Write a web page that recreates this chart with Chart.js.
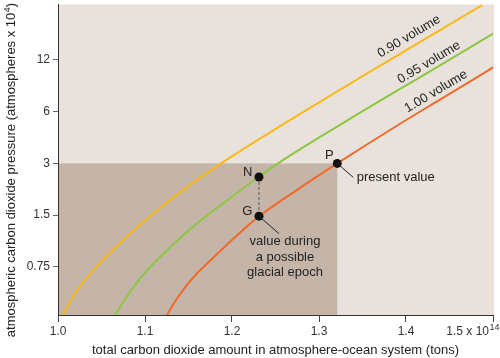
<!DOCTYPE html>
<html><head><meta charset="utf-8">
<script src="https://cdn.jsdelivr.net/npm/chart.js@4/dist/chart.umd.min.js"></script>
<style>html,body{margin:0;padding:0;background:#fff}</style>
</head><body>
<canvas id="c" width="500" height="358"></canvas>
<script>
// ---- data ----
const xTickValues = [1.0, 1.1, 1.2, 1.3, 1.4, 1.5];
const xTickLabels = ['1.0', '1.1', '1.2', '1.3', '1.4', '1.5 x 10'];
const xTickExponent = '14';
const yTickValues = [0.75, 1.5, 3, 6, 12];
const yTickLabels = ['0.75', '1.5', '3', '6', '12'];
const seriesNames = ['0.90 volume', '0.95 volume', '1.00 volume'];

const vol090X = [1.0057, 1.0192, 1.0445, 1.0747, 1.1057, 1.1448, 1.1874, 1.2609, 1.3433, 1.4391, 1.4877];
const vol090Y = [0.394, 0.5235, 0.753, 1.073, 1.479, 2.117, 3.0, 5.14, 9.20, 17.90, 25.0];
const vol095X = [1.0659, 1.0793, 1.0957, 1.1057, 1.1341, 1.1632, 1.2015, 1.2305, 1.2529, 1.3318, 1.4391, 1.5011];
const vol095Y = [0.394, 0.506, 0.653, 0.747, 1.032, 1.389, 1.946, 2.50, 3.0, 5.30, 11.16, 17.19];
const vol100X = [1.1253, 1.1345, 1.1456, 1.1586, 1.1724, 1.2015, 1.2314, 1.2782, 1.3210, 1.3951, 1.4391, 1.5011];
const vol100Y = [0.394, 0.471, 0.566, 0.677, 0.793, 1.095, 1.48, 2.162, 3.0, 5.17, 7.05, 10.92];

const markerNames = ['N', 'G', 'P'];
const markerX = [1.231, 1.231, 1.321];
const markerY = [2.50, 1.48, 3.0];

const xTitle = 'total carbon dioxide amount in atmosphere-ocean system (tons)';
const yTitleMain = 'atmospheric carbon dioxide pressure (atmospheres x 10';
const yTitleExp = '4';
const yTitleEnd = ')';
const presentLabel = 'present value';
const glacialLabel = ['value during', 'a possible', 'glacial epoch'];

// ---- styles ----
const FONT = '"Liberation Sans", Arial, Helvetica, sans-serif';
const TXT = '#222';
const colors = ['#fbb919', '#8dc641', '#f26a2a'];
const bgLight = '#e9e2dc';
const bgDark = '#c5b5a8';

const zip = (xs, ys) => xs.map((x, i) => ({x, y: ys[i]}));

const bgPlugin = {
  id: 'bg',
  beforeDraw(chart) {
    const {ctx, chartArea: a, scales: {x, y}} = chart;
    ctx.save();
    ctx.fillStyle = bgLight;
    ctx.fillRect(a.left, a.top, a.right - a.left + 1, a.bottom - a.top);
    const px = x.getPixelForValue(markerX[2]);
    const py = y.getPixelForValue(markerY[2]);
    ctx.fillStyle = bgDark;
    ctx.fillRect(a.left, py, px - a.left, a.bottom - py);
    ctx.restore();
  }
};

const annPlugin = {
  id: 'ann',
  afterDraw(chart) {
    const {ctx, scales: {x, y}} = chart;
    const P = markerX.map((v, i) => ({x: x.getPixelForValue(v), y: y.getPixelForValue(markerY[i])}));
    const [N, G, Pp] = P;
    ctx.save();
    ctx.fillStyle = TXT;
    ctx.strokeStyle = '#222';
    ctx.lineWidth = 1;
    // leader lines
    ctx.beginPath();
    ctx.moveTo(Pp.x, Pp.y); ctx.lineTo(Pp.x + 16, Pp.y + 14);
    ctx.moveTo(G.x, G.y); ctx.lineTo(G.x + 20, G.y + 17.5);
    ctx.stroke();
    // point labels
    ctx.font = '13px ' + FONT;
    ctx.textBaseline = 'middle';
    ctx.textAlign = 'right';
    ctx.fillText(markerNames[0], N.x - 6.5, N.y - 4.5);
    ctx.fillText(markerNames[1], G.x - 6.5, G.y - 4.3);
    ctx.fillText(markerNames[2], Pp.x - 3.5, Pp.y - 7.5);
    ctx.textAlign = 'left';
    ctx.fillText(presentLabel, Pp.x + 19.5, Pp.y + 14.5);
    ctx.textAlign = 'center';
    const offs = [25.5, 41, 56.5];
    glacialLabel.forEach((t, i) => ctx.fillText(t, G.x + 26, G.y + offs[i]));
    // curve labels
    const curvePos = [[409, 36.5], [429, 62.5], [436, 91.5]];
    curvePos.forEach((p, i) => {
      ctx.save();
      ctx.translate(p[0], p[1]);
      ctx.rotate(-31 * Math.PI / 180);
      ctx.textAlign = 'center';
      ctx.textBaseline = 'middle';
      ctx.fillText(seriesNames[i], 0, 0);
      ctx.restore();
    });
    // last x tick label with exponent
    ctx.textAlign = 'left';
    ctx.textBaseline = 'alphabetic';
    ctx.fillStyle = '#333';
    ctx.font = '12px ' + FONT;
    const main = xTickLabels[xTickLabels.length - 1];
    const wMain = ctx.measureText(main).width;
    ctx.font = '9px ' + FONT;
    const wExp = ctx.measureText(xTickExponent).width;
    const startX = 499.5 - wMain - wExp - 0.5;
    ctx.font = '12px ' + FONT;
    ctx.fillText(main, startX, 335);
    ctx.font = '9px ' + FONT;
    ctx.fillText(xTickExponent, startX + wMain + 0.5, 329.5);
    // y title
    ctx.fillStyle = TXT;
    ctx.save();
    ctx.translate(15, 170);
    ctx.rotate(-Math.PI / 2);
    ctx.font = '13px ' + FONT;
    const w1 = ctx.measureText(yTitleMain).width;
    const w3 = ctx.measureText(yTitleEnd).width;
    ctx.font = '9px ' + FONT;
    const w2 = ctx.measureText(yTitleExp).width;
    let sx = -(w1 + w2 + w3 + 0.5) / 2;
    ctx.font = '13px ' + FONT;
    ctx.fillText(yTitleMain, sx, 0);
    ctx.font = '9px ' + FONT;
    ctx.fillText(yTitleExp, sx + w1 + 0.5, -5);
    ctx.font = '13px ' + FONT;
    ctx.fillText(yTitleEnd, sx + w1 + w2 + 0.5, 0);
    ctx.restore();
    ctx.restore();
  }
};

const curveDs = (xs, ys, i) => ({
  type: 'scatter', label: seriesNames[i], data: zip(xs, ys), showLine: true,
  borderColor: colors[i], borderWidth: 2, pointRadius: 0, fill: false,
  cubicInterpolationMode: 'monotone'
});

new Chart(document.getElementById('c'), {
  type: 'scatter',
  data: {
    datasets: [
      {label: 'markers', data: zip(markerX, markerY), pointRadius: 4.5, pointBackgroundColor: '#111', pointBorderWidth: 0, showLine: false},
      {label: 'dash', data: zip(markerX.slice(0, 2), markerY.slice(0, 2)), showLine: true, pointRadius: 0, borderColor: '#555', borderWidth: 1, borderDash: [3, 2]},
      curveDs(vol090X, vol090Y, 0),
      curveDs(vol095X, vol095Y, 1),
      curveDs(vol100X, vol100Y, 2)
    ]
  },
  options: {
    responsive: false,
    animation: false,
    layout: {padding: {left: 0, right: 7, top: 0, bottom: 0}},
    plugins: {legend: {display: false}, tooltip: {enabled: false}},
    scales: {
      x: {
        type: 'linear', min: 1.0, max: 1.5,
        afterBuildTicks: ax => { ax.ticks = xTickValues.map(v => ({value: v})); },
        afterFit: ax => { ax.height = 43; ax.paddingLeft = 0; ax.paddingRight = 0; },
        ticks: {
          callback: (v, i) => (i === xTickLabels.length - 1 ? '' : xTickLabels[i]),
          font: {size: 12, family: FONT}, color: '#333', padding: 2, maxRotation: 0, autoSkip: false
        },
        grid: {drawOnChartArea: false, drawTicks: true, tickLength: 7, color: '#444'},
        border: {display: true, color: '#333', width: 1},
        title: {display: true, text: xTitle, font: {size: 13, family: FONT}, color: TXT, padding: {top: 0, bottom: 0}}
      },
      y: {
        type: 'logarithmic', min: 0.39375, max: 25.2,
        afterBuildTicks: ax => { ax.ticks = yTickValues.map(v => ({value: v})); },
        afterFit: ax => { ax.width = 58; ax.paddingTop = 0; ax.paddingBottom = 0; },
        ticks: {
          callback: (v, i) => yTickLabels[i],
          font: {size: 12, family: FONT}, color: '#333', padding: 3, autoSkip: false
        },
        grid: {drawOnChartArea: false, drawTicks: true, tickLength: 5, color: '#666'},
        border: {display: true, color: '#333', width: 1},
        title: {display: false}
      }
    }
  },
  plugins: [bgPlugin, annPlugin]
});
</script>
</body></html>
